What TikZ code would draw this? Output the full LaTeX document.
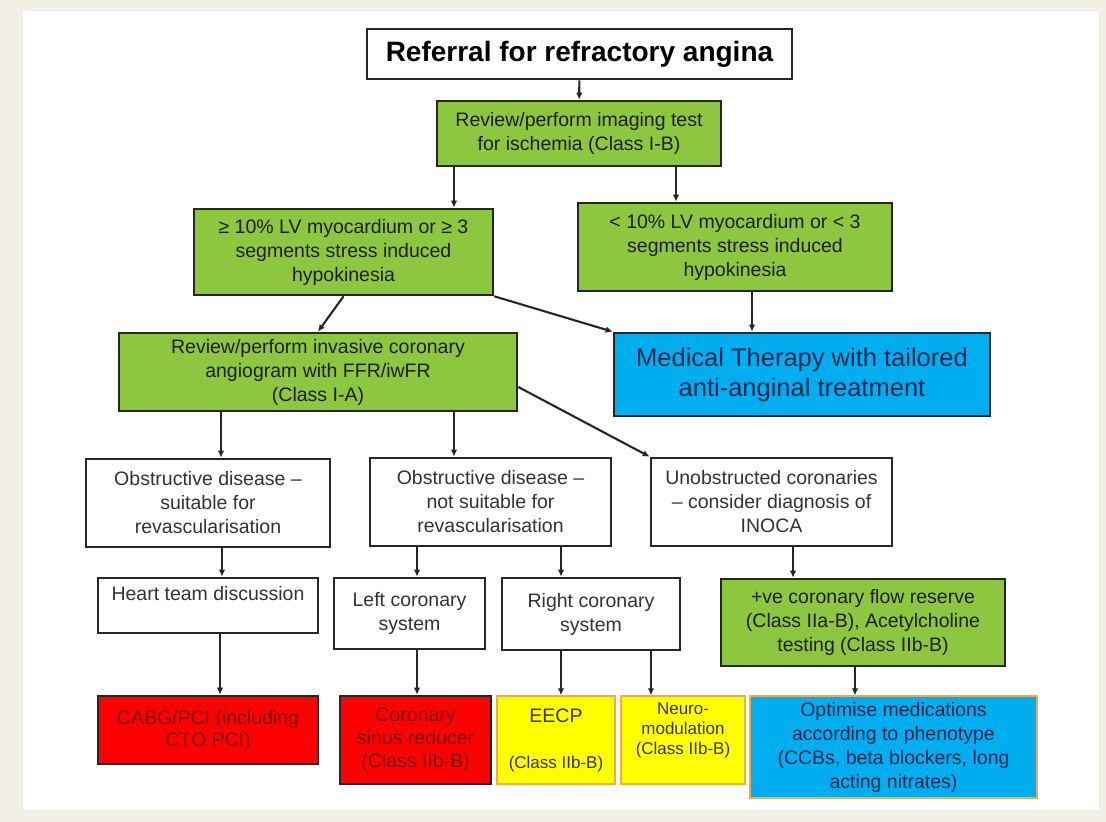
\documentclass[tikz,border=0pt]{standalone}
\usepackage{fontspec}
\setmainfont{Liberation Sans}
\usetikzlibrary{arrows.meta, positioning}

\definecolor{boxgreen}{RGB}{141,198,63}
\definecolor{boxblue}{RGB}{0,174,239}
\definecolor{boxred}{RGB}{255,0,0}
\definecolor{boxyellow}{RGB}{255,255,0}
\definecolor{edgeorange}{RGB}{245,170,70}
\definecolor{cream}{RGB}{242,240,228}
\definecolor{redtext}{RGB}{125,0,0}
\definecolor{bluetext}{RGB}{12,38,78}

\tikzset{
  box/.style={draw=black!85, line width=2.6pt, align=center, inner sep=2pt,
    text=black!80, font=\fontsize{19.5}{24}\selectfont},
  boxsize/.style 2 args={minimum width=#1, minimum height=#2},
  whitebox/.style={box, fill=white},
  greenbox/.style={box, fill=boxgreen, text=black!88},
  bluebox/.style={box, fill=boxblue, text=bluetext},
  redbox/.style={box, fill=boxred, text=redtext},
  yellowbox/.style={box, fill=boxyellow, draw=edgeorange, line width=1.4pt},
  arr/.style={draw=black!85, line width=2.1pt, -{Latex[length=7pt,width=6.5pt]}},
}

\begin{document}
\begin{tikzpicture}[x=1pt, y=-1pt]
  \useasboundingbox (0,0) rectangle (1106,822);
  \fill[cream] (0,0) rectangle (1106,822);
  \filldraw[fill=white, draw=black!8] (22,10) rectangle (1099,810);

  % top of the pathway
  \node[whitebox, boxsize={425pt}{50pt}, text=black,
    font=\bfseries\fontsize{28}{32}\selectfont] (ref) at (579.5,54)
    {Referral for refractory angina};
  \node[greenbox, boxsize={284pt}{65pt}] (img) at (579,133.5)
    {Review/perform imaging test\\for ischemia (Class I-B)};

  % ischemia burden
  \node[greenbox, boxsize={299pt}{86pt}] (high) at (343.5,252)
    {≥ 10\% LV myocardium or ≥ 3\\segments stress induced\\hypokinesia};
  \node[greenbox, boxsize={314pt}{88pt}] (low) at (735,247)
    {< 10\% LV myocardium or < 3\\segments stress induced\\hypokinesia};
  \node[bluebox, boxsize={376pt}{83pt}, font=\fontsize{25.5}{30}\selectfont] (med) at (802,374.5)
    {Medical Therapy with tailored\\anti-anginal treatment};
  \node[greenbox, boxsize={398pt}{78pt}] (angio) at (318,372)
    {Review/perform invasive coronary\\angiogram with FFR/iwFR\\(Class I-A)};

  % angiogram findings
  \node[whitebox, boxsize={244pt}{88pt}] (suit) at (208,503)
    {Obstructive disease –\\suitable for\\revascularisation};
  \node[whitebox, boxsize={241pt}{88pt}] (unsuit) at (490.5,502)
    {Obstructive disease –\\not suitable for\\revascularisation};
  \node[whitebox, boxsize={241pt}{88pt}] (inoca) at (771.5,502)
    {Unobstructed coronaries\\– consider diagnosis of\\INOCA};

  \node[whitebox, boxsize={220pt}{55pt}] (heart) at (208,605.5)
    {Heart team discussion\\\mbox{}};
  \node[whitebox, boxsize={151pt}{71pt}] (lcs) at (409.5,613.5)
    {Left coronary\\system};
  \node[whitebox, boxsize={178pt}{72pt}] (rcs) at (591,614)
    {Right coronary\\system};
  \node[greenbox, boxsize={284pt}{87pt}] (cfr) at (863,622.5)
    {+ve coronary flow reserve\\(Class IIa-B), Acetylcholine\\testing (Class IIb-B)};

  % treatments
  \node[redbox, boxsize={220pt}{68pt}, font=\fontsize{19.5}{22}\selectfont] (cabg) at (208,730)
    {CABG/PCI (including\\CTO PCI)};
  \node[redbox, boxsize={151pt}{88pt}, font=\fontsize{19.5}{23}\selectfont] (sinus) at (415.5,740)
    {Coronary\\sinus reducer\\(Class IIb-B)};
  \node[yellowbox, boxsize={118pt}{88pt}, font=\fontsize{17}{23}\selectfont] (eecp) at (556,740)
    {{\fontsize{19.5}{23}\selectfont EECP}\\\mbox{}\\(Class IIb-B)};
  \node[yellowbox, boxsize={124pt}{88pt}, font=\fontsize{17}{20}\selectfont] (neuro) at (683,740)
    {Neuro-\\modulation\\(Class IIb-B)\\[2pt]};
  \node[bluebox, draw=edgeorange, line width=1.2pt, boxsize={287pt}{102pt}] (optim) at (893.5,747)
    {Optimise medications\\according to phenotype\\(CCBs, beta blockers, long\\acting nitrates)};

  % connectors
  \draw[arr] (ref) -- (img);
  \draw[arr] ([xshift=-125pt]img.south) -- ([xshift=-125pt]img.south |- high.north);
  \draw[arr] ([xshift=97pt]img.south) -- ([xshift=97pt]img.south |- low.north);
  \draw[arr] (high.south east) -- (med.north west);
  \draw[arr] ([xshift=17pt]low.south) -- ([xshift=17pt]low.south |- med.north);
  \draw[arr] (high.south) -- (angio.north);
  \draw[arr] ([yshift=-15pt]angio.east) -- (inoca.north west);
  \draw[arr] ([xshift=-97pt]angio.south) -- ([xshift=-97pt]angio.south |- suit.north);
  \draw[arr] ([xshift=136pt]angio.south) -- ([xshift=136pt]angio.south |- unsuit.north);
  \draw[arr] ([xshift=14pt]suit.south) -- ([xshift=14pt]suit.south |- heart.north);
  \draw[arr] ([xshift=12pt]heart.south) -- ([xshift=12pt]heart.south |- cabg.north);
  \draw[arr] ([xshift=-73.5pt]unsuit.south) -- ([xshift=-73.5pt]unsuit.south |- lcs.north);
  \draw[arr] ([xshift=70.5pt]unsuit.south) -- ([xshift=70.5pt]unsuit.south |- rcs.north);
  \draw[arr] ([xshift=7.5pt]lcs.south) -- ([xshift=7.5pt]lcs.south |- sinus.north);
  \draw[arr] ([xshift=-30pt]rcs.south) -- ([xshift=-30pt]rcs.south |- eecp.north);
  \draw[arr] ([xshift=60pt]rcs.south) -- ([xshift=60pt]rcs.south |- neuro.north);
  \draw[arr] ([xshift=21.5pt]inoca.south) -- ([xshift=21.5pt]inoca.south |- cfr.north);
  \draw[arr] ([xshift=-8pt]cfr.south) -- ([xshift=-8pt]cfr.south |- optim.north);
\end{tikzpicture}
\end{document}
